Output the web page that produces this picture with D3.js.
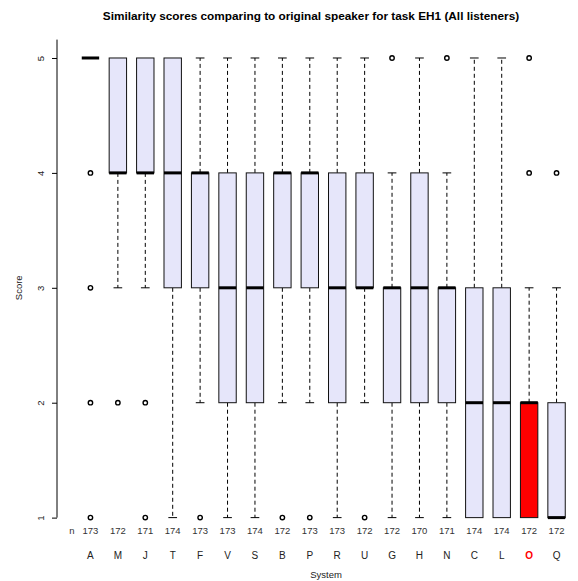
<!DOCTYPE html>
<html>
<head>
<meta charset="utf-8">
<script src="https://cdn.jsdelivr.net/npm/d3@7"></script>
<style>
  body { margin: 0; background: #fff; }
  svg { display: block; font-family: "Liberation Sans", Arial, sans-serif; }
</style>
</head>
<body>
<div id="chart"></div>
<script>
// systems, in plotted order
const systems = ["A", "M", "J", "T", "F", "V", "S", "B", "P", "R", "U", "G", "H", "N", "C", "L", "O", "Q"];
const counts  = [173, 172, 171, 174, 173, 173, 174, 172, 173, 173, 172, 172, 170, 171, 174, 174, 172, 172];

// five-number summaries
const whiskerLow  = [5, 3, 3, 1, 2, 1, 1, 2, 2, 1, 2, 1, 1, 1, 1, 1, 1, 1];
const q1          = [5, 4, 4, 3, 3, 2, 2, 3, 3, 2, 3, 2, 2, 2, 1, 1, 1, 1];
const medians     = [5, 4, 4, 4, 4, 3, 3, 4, 4, 3, 3, 3, 3, 3, 2, 2, 2, 1];
const q3          = [5, 5, 5, 5, 4, 4, 4, 4, 4, 4, 4, 3, 4, 3, 3, 3, 2, 2];
const whiskerHigh = [5, 5, 5, 5, 5, 5, 5, 5, 5, 5, 5, 4, 5, 4, 5, 5, 3, 3];
const outliers    = [[4, 3, 2, 1], [2], [2, 1], [], [1], [], [], [1], [1], [], [1], [5], [], [5], [], [], [4, 5], [4]];

const highlight = "O";
const scoreTicks = [1, 2, 3, 4, 5];

const width = 578, height = 581;
const svg = d3.select("#chart").append("svg")
    .attr("width", width)
    .attr("height", height);

// R-style ranges: positions 1..n with 4% padding
const x = d3.scaleLinear().domain([-0.22, 19.22]).range([57, 590]);
const y = d3.scaleLinear().domain([0.84, 5.16]).range([536, 39.6]);

const boxW = 17.4;
const capW = boxW / 2;

const data = systems.map((s, i) => ({
    name: s, pos: i + 1, n: counts[i],
    lo: whiskerLow[i], q1: q1[i], med: medians[i], q3: q3[i], hi: whiskerHigh[i],
    out: outliers[i]
}));

// title
svg.append("text")
    .attr("x", 311).attr("y", 20)
    .attr("text-anchor", "middle")
    .style("font-size", "11.8px").style("font-weight", "bold")
    .text("Similarity scores comparing to original speaker for task EH1 (All listeners)");

// y axis
const yAxis = svg.append("g")
    .attr("transform", "translate(57,0)")
    .call(d3.axisLeft(y).tickValues(scoreTicks).tickFormat(d3.format("d"))
        .tickSize(5).tickSizeOuter(0).tickPadding(0));
yAxis.select(".domain").remove();
yAxis.selectAll(".tick line").attr("stroke", "#000");
yAxis.selectAll(".tick text")
    .attr("x", 0).attr("dy", null)
    .attr("transform", "translate(-16,0) rotate(-90)")
    .attr("text-anchor", "middle")
    .attr("dominant-baseline", "middle")
    .attr("fill", "#222")
    .style("font-size", "9.5px").style("font-family", "Liberation Sans, Arial, sans-serif");
svg.append("line")
    .attr("x1", 57).attr("x2", 57)
    .attr("y1", y(5.16)).attr("y2", y(1))
    .attr("stroke", "#000");

svg.append("text")
    .attr("transform", `translate(19,${y(3)}) rotate(-90)`)
    .attr("text-anchor", "middle")
    .attr("dominant-baseline", "middle")
    .attr("fill", "#222")
    .style("font-size", "9.5px")
    .text("Score");

const g = svg.selectAll("g.sys")
    .data(data)
    .enter().append("g")
    .attr("class", "sys");

// whiskers
g.filter(d => d.hi > d.q3).append("line")
    .attr("x1", d => x(d.pos)).attr("x2", d => x(d.pos))
    .attr("y1", d => y(d.q3)).attr("y2", d => y(d.hi))
    .attr("stroke", "#000").attr("stroke-dasharray", "4,3");
g.filter(d => d.hi > d.q3).append("line")
    .attr("x1", d => x(d.pos) - capW / 2).attr("x2", d => x(d.pos) + capW / 2)
    .attr("y1", d => y(d.hi)).attr("y2", d => y(d.hi))
    .attr("stroke", "#000");
g.filter(d => d.lo < d.q1).append("line")
    .attr("x1", d => x(d.pos)).attr("x2", d => x(d.pos))
    .attr("y1", d => y(d.q1)).attr("y2", d => y(d.lo))
    .attr("stroke", "#000").attr("stroke-dasharray", "4,3");
g.filter(d => d.lo < d.q1).append("line")
    .attr("x1", d => x(d.pos) - capW / 2).attr("x2", d => x(d.pos) + capW / 2)
    .attr("y1", d => y(d.lo)).attr("y2", d => y(d.lo))
    .attr("stroke", "#000");

// boxes
g.filter(d => d.q3 > d.q1).append("rect")
    .attr("x", d => x(d.pos) - boxW / 2)
    .attr("width", boxW)
    .attr("y", d => y(d.q3))
    .attr("height", d => y(d.q1) - y(d.q3))
    .attr("fill", d => d.name === highlight ? "#ff0000" : "#e6e6fa")
    .attr("stroke", "#111")
    .attr("stroke-width", 1);

// medians
g.append("line")
    .attr("x1", d => x(d.pos) - boxW / 2).attr("x2", d => x(d.pos) + boxW / 2)
    .attr("y1", d => y(d.med)).attr("y2", d => y(d.med))
    .attr("stroke", "#000").attr("stroke-width", 3);

// outliers
g.selectAll("circle")
    .data(d => d.out.map(v => ({ pos: d.pos, v })))
    .enter().append("circle")
    .attr("cx", d => x(d.pos)).attr("cy", d => y(d.v))
    .attr("r", 2.2)
    .attr("fill", "none")
    .attr("stroke", "#000")
    .attr("stroke-width", 1.4);

// counts row
svg.append("text")
    .attr("x", 72).attr("y", 534)
    .attr("text-anchor", "middle")
    .attr("fill", "#333")
    .style("font-size", "9.5px")
    .text("n");
g.append("text")
    .attr("x", d => x(d.pos)).attr("y", 534)
    .attr("text-anchor", "middle")
    .attr("fill", "#333")
    .style("font-size", "9.5px")
    .text(d => d.n);

// system labels
g.append("text")
    .attr("x", d => x(d.pos)).attr("y", 558.5)
    .attr("text-anchor", "middle")
    .attr("fill", d => d.name === highlight ? "#ff0000" : "#222")
    .style("font-size", "10px")
    .style("font-weight", d => d.name === highlight ? "bold" : "normal")
    .text(d => d.name);

svg.append("text")
    .attr("x", 326).attr("y", 578)
    .attr("text-anchor", "middle")
    .attr("fill", "#222")
    .style("font-size", "9.5px")
    .text("System");
</script>
</body>
</html>
